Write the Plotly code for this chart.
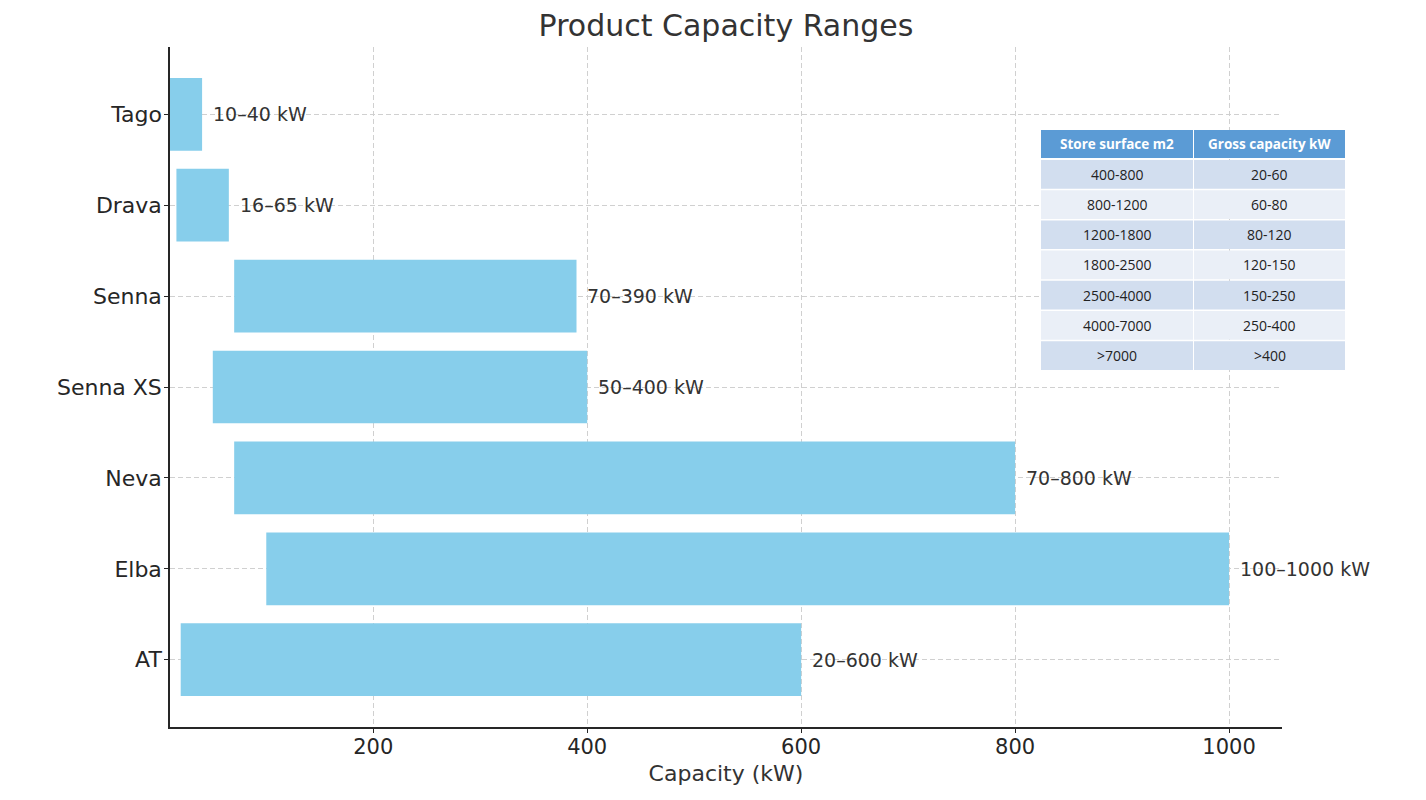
import plotly.graph_objects as go

products = ["AT", "Elba", "Neva", "Senna XS", "Senna", "Drava", "Tago"]
cap_min = [20, 100, 70, 50, 70, 16, 10]
cap_max = [600, 1000, 800, 400, 390, 65, 40]

table_header = ["Store surface m2", "Gross capacity kW"]
store_surface = ["400-800", "800-1200", "1200-1800", "1800-2500", "2500-4000", "4000-7000", ">7000"]
gross_capacity = ["20-60", "60-80", "80-120", "120-150", "150-250", "250-400", ">400"]

W, H = 1426, 800
L, R, T, B = 170, 1282, 47, 727

def px(x):
    return (x - L) / (R - L)

def py(y):
    return (B - y) / (B - T)

fig = go.Figure()
fig.add_trace(go.Bar(
    y=products,
    x=[b - a for a, b in zip(cap_min, cap_max)],
    base=cap_min,
    orientation="h",
    width=0.8,
    marker=dict(color="#87CEEB", line=dict(width=0)),
    hoverinfo="skip",
))

annotations = []
for name, a, b in zip(products, cap_min, cap_max):
    annotations.append(dict(
        x=b + 10, y=name, xref="x", yref="y", xshift=-2,
        text=f"{a}–{b} kW", showarrow=False, xanchor="left", yanchor="middle",
        font=dict(family="DejaVu Sans", size=19, color="#333333"),
    ))

shapes = []
col_x = [1041, 1193, 1345]
header_y = (130, 158)
row_top = 160
row_h = 30.2
header_color = "#5B9BD5"
row_colors = ["#D2DEEF", "#EAEFF7"]

for c in range(2):
    x0, x1 = col_x[c] + (1 if c else 0), col_x[c + 1]
    shapes.append(dict(type="rect", xref="paper", yref="paper",
                       x0=px(x0), x1=px(x1), y0=py(header_y[1]), y1=py(header_y[0]),
                       fillcolor=header_color, line=dict(width=0), layer="above"))
    annotations.append(dict(x=px((x0 + x1) / 2), y=py(sum(header_y) / 2), xref="paper", yref="paper",
                            xanchor="center", yanchor="middle",
                            text=f"<b>{table_header[c]}</b>", showarrow=False,
                            font=dict(family="Open Sans", size=13.5, color="white")))
for i, (s, g) in enumerate(zip(store_surface, gross_capacity)):
    y0 = row_top + i * row_h
    y1 = y0 + row_h - 1.5
    for c, val in enumerate([s, g]):
        x0, x1 = col_x[c] + (1 if c else 0), col_x[c + 1]
        shapes.append(dict(type="rect", xref="paper", yref="paper",
                           x0=px(x0), x1=px(x1), y0=py(y1), y1=py(y0),
                           fillcolor=row_colors[i % 2], line=dict(width=0), layer="above"))
        annotations.append(dict(x=px((x0 + x1) / 2), y=py((y0 + y1) / 2), xref="paper", yref="paper",
                                xanchor="center", yanchor="middle",
                                text=val, showarrow=False,
                                font=dict(family="Open Sans", size=14, color="#222222")))

grid_dash = "5px,3px"
fig.update_layout(
    width=W, height=H,
    margin=dict(l=L, r=W - R, t=T, b=H - B),
    paper_bgcolor="white", plot_bgcolor="white",
    showlegend=False,
    title=dict(text="Product Capacity Ranges", x=(L + R) / 2 / W, xanchor="center",
               y=1 - 25 / H, yanchor="middle",
               font=dict(family="DejaVu Sans", size=30, color="#333333")),
    font=dict(family="DejaVu Sans", color="#262626"),
    xaxis=dict(range=[10, 1049.5], tickvals=[200, 400, 600, 800, 1000],
               showgrid=True, gridcolor="#d0d0d0", griddash=grid_dash, gridwidth=1,
               showline=True, linecolor="#262626", linewidth=1.5, mirror=False,
               ticks="outside", ticklen=4, tickcolor="#262626", ticklabelstandoff=-4,
               tickfont=dict(size=21, color="#262626"), zeroline=False,
               title=dict(text="Capacity (kW)", font=dict(size=22, color="#333333"), standoff=8)),
    yaxis=dict(categoryorder="array", categoryarray=products, range=[-0.74, 6.74],
               showgrid=True, gridcolor="#d0d0d0", griddash=grid_dash, gridwidth=1,
               showline=True, linecolor="#262626", linewidth=1.5,
               ticks="outside", ticklen=4, tickcolor="#262626", ticklabelstandoff=-2,
               tickfont=dict(size=22, color="#262626"), zeroline=False),
    annotations=annotations,
    shapes=shapes,
)

fig.write_html("out.html")
